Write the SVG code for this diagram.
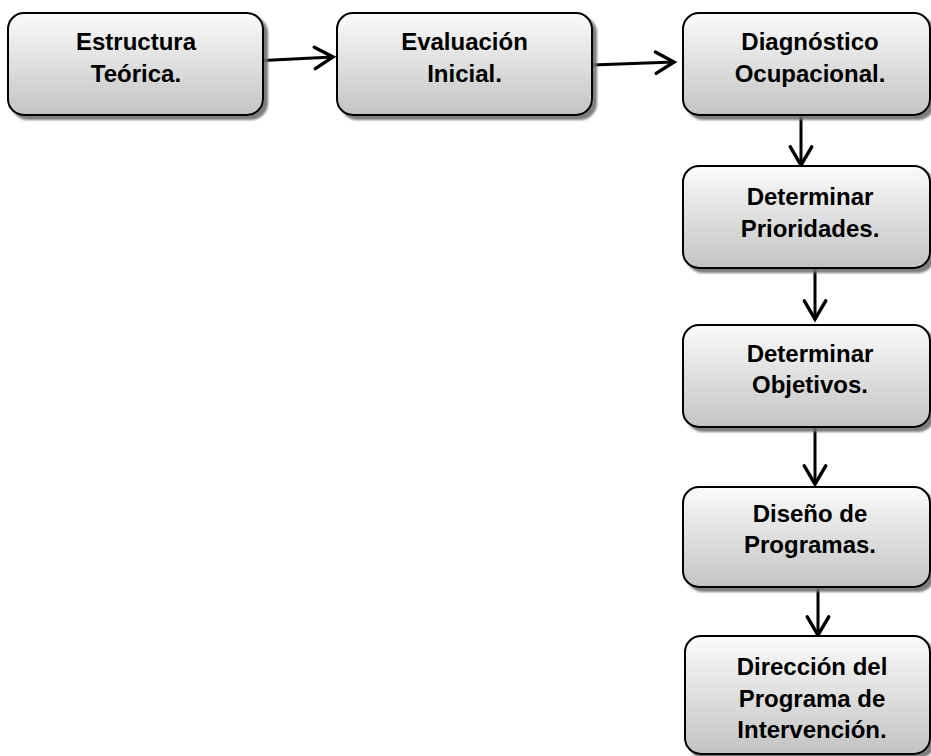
<svg xmlns="http://www.w3.org/2000/svg" width="931" height="756" viewBox="0 0 931 756">
<style>
.box{fill:url(#g);stroke:#000;stroke-width:2;filter:url(#sh)}
.t{font-family:"Liberation Sans",Arial,sans-serif;font-weight:bold;font-size:24px;fill:#000;text-anchor:middle}
.c{stroke:#000;stroke-width:3;fill:none;marker-end:url(#ah)}
</style>
<defs>
<linearGradient id="g" x1="0" y1="0" x2="0" y2="1">
<stop offset="0" stop-color="#fbfbfb"/>
<stop offset="1" stop-color="#c3c3c3"/>
</linearGradient>
<filter id="sh" x="-10%" y="-10%" width="125%" height="130%">
<feDropShadow dx="4" dy="4" stdDeviation="1" flood-color="#6f6f6f" flood-opacity="0.9"/>
</filter>
<marker id="ah" markerUnits="userSpaceOnUse" markerWidth="30" markerHeight="30" viewBox="-20 -14 24 28" refX="0" refY="0" orient="auto">
<path d="M-17,-10 L0,0 L-17,10" fill="none" stroke="#000" stroke-width="3.2" stroke-linejoin="miter" stroke-linecap="round"/>
</marker>
</defs>
<rect width="931" height="756" fill="#fff"/>
<g id="connectors">
<line class="c" x1="263" y1="60.5" x2="333" y2="57"/>
<line class="c" x1="592" y1="65" x2="674" y2="62"/>
<line class="c" x1="801" y1="115" x2="801" y2="165"/>
<line class="c" x1="815" y1="268" x2="815" y2="319"/>
<line class="c" x1="815" y1="427" x2="815" y2="484"/>
<line class="c" x1="818" y1="587" x2="818" y2="635"/>
</g>
<g id="n1">
<rect class="box" x="8" y="13" width="255" height="102" rx="16"/>
<text class="t" x="136" y="50">Estructura</text>
<text class="t" x="136" y="82">Teórica.</text>
</g>
<g id="n2">
<rect class="box" x="337" y="13" width="255" height="102" rx="16"/>
<text class="t" x="464.5" y="50">Evaluación</text>
<text class="t" x="464.5" y="82">Inicial.</text>
</g>
<g id="n3">
<rect class="box" x="683" y="13" width="247" height="102" rx="16"/>
<text class="t" x="810" y="50">Diagnóstico</text>
<text class="t" x="810" y="82">Ocupacional.</text>
</g>
<g id="n4">
<rect class="box" x="683" y="166" width="247" height="102" rx="16"/>
<text class="t" x="810" y="205">Determinar</text>
<text class="t" x="810" y="237">Prioridades.</text>
</g>
<g id="n5">
<rect class="box" x="683" y="325" width="247" height="102" rx="16"/>
<text class="t" x="810" y="362">Determinar</text>
<text class="t" x="810" y="393">Objetivos.</text>
</g>
<g id="n6">
<rect class="box" x="683" y="487" width="247" height="100" rx="16"/>
<text class="t" x="810" y="522">Diseño de</text>
<text class="t" x="810" y="553">Programas.</text>
</g>
<g id="n7">
<rect class="box" x="685" y="636" width="245" height="118" rx="16"/>
<text class="t" x="812" y="675">Dirección del</text>
<text class="t" x="812" y="707">Programa de</text>
<text class="t" x="812" y="738">Intervención.</text>
</g>
</svg>
